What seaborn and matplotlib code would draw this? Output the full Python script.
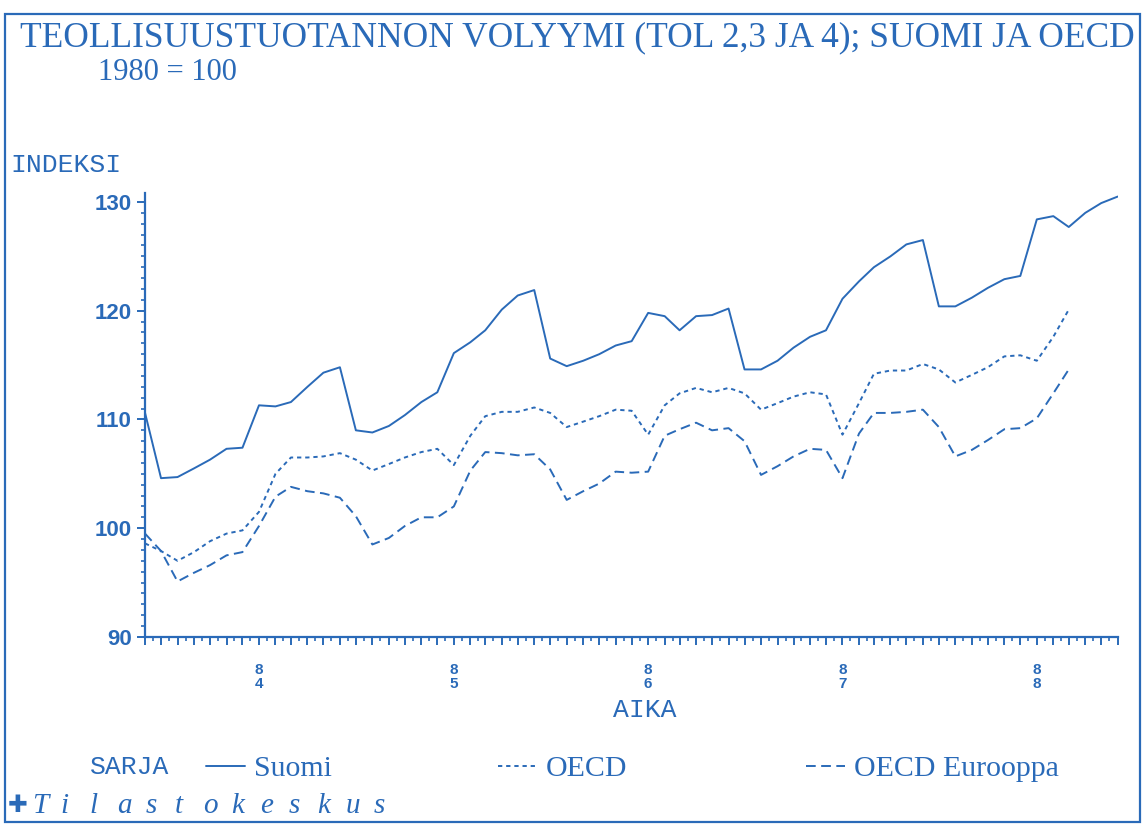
import numpy as np
import pandas as pd
import matplotlib
matplotlib.use("Agg")
import matplotlib.pyplot as plt
import matplotlib.dates as mdates
from matplotlib.ticker import FuncFormatter, MultipleLocator
from matplotlib.patches import Rectangle
import seaborn as sns

# monthly index values, 1980 = 100
months = pd.date_range("1983-06-01", "1988-06-01", freq="MS")

suomi = [110.6, 104.6, 104.7, 105.5, 106.3, 107.3, 107.4,
         111.3, 111.2, 111.6, 113.0, 114.3, 114.8, 109.0, 108.8, 109.4, 110.4, 111.6, 112.5,
         116.1, 117.1, 118.2, 120.1, 121.4, 121.9, 115.6, 114.9, 115.4, 116.0, 116.8, 117.2,
         119.8, 119.5, 118.2, 119.5, 119.6, 120.2, 114.6, 114.6, 115.4, 116.6, 117.6, 118.2,
         121.1, 122.7, 124.0, 125.0, 126.1, 126.5, 120.4, 120.4, 121.2, 122.1, 122.9, 123.2,
         128.4, 128.7, 127.7, 129.0, 129.9, 130.5]

oecd = [98.6, 97.9, 97.0, 97.8, 98.8, 99.5, 99.8,
        101.5, 105.0, 106.5, 106.5, 106.6, 106.9, 106.3, 105.3, 105.9, 106.5, 107.0, 107.3,
        105.8, 108.5, 110.3, 110.7, 110.7, 111.1, 110.6, 109.3, 109.8, 110.3, 110.9, 110.8,
        108.6, 111.3, 112.4, 112.9, 112.5, 112.9, 112.4, 110.9, 111.5, 112.1, 112.5, 112.3,
        108.6, 111.5, 114.2, 114.5, 114.5, 115.1, 114.6, 113.4, 114.1, 114.8, 115.8, 115.9,
        115.4, 117.6, 120.1]

oecd_eur = [99.5, 97.9, 95.1, 95.9, 96.6, 97.5, 97.8,
            100.2, 102.9, 103.8, 103.4, 103.2, 102.8, 101.1, 98.5, 99.1, 100.2, 101.0, 101.0,
            102.0, 105.3, 107.0, 106.9, 106.7, 106.8, 105.4, 102.6, 103.4, 104.1, 105.2, 105.1,
            105.2, 108.5, 109.1, 109.7, 109.0, 109.2, 108.0, 104.9, 105.7, 106.6, 107.3, 107.2,
            104.6, 108.7, 110.6, 110.6, 110.7, 110.9, 109.3, 106.6, 107.2, 108.1, 109.1, 109.2,
            110.1, 112.4, 114.6]

series_names = ["Suomi", "OECD", "OECD Eurooppa"]
y_ticks = [90, 100, 110, 120, 130]

BLUE = "#2a6ab8"

df = pd.concat([
    pd.DataFrame({"AIKA": months[:len(v)], "INDEKSI": v, "SARJA": name})
    for name, v in zip(series_names, [suomi, oecd, oecd_eur])
], ignore_index=True)

sns.set_style("white")

fig = plt.figure(figsize=(11.43, 8.25), dpi=100)
ax = fig.add_axes([0.1269, 0.228, 0.851, 0.5377])

sns.lineplot(
    data=df, x="AIKA", y="INDEKSI", hue="SARJA", style="SARJA",
    palette={n: BLUE for n in series_names},
    dashes={"Suomi": "", "OECD": (2.2, 2.0), "OECD Eurooppa": (5, 2.8)},
    linewidth=1.4, ax=ax,
)

ax.set_xlim(months[0], months[-1])
ax.set_ylim(90, 130.8)
ax.set_yticks(y_ticks)
ax.yaxis.set_minor_locator(MultipleLocator(1))
ax.xaxis.set_major_locator(mdates.MonthLocator())
ax.xaxis.set_minor_locator(mdates.MonthLocator(bymonthday=16))


def year_label(x, pos):
    d = mdates.num2date(x)
    if d.month == 1:
        s = str(d.year)[2:]
        return s[0] + "\n" + s[1]
    return ""


ax.xaxis.set_major_formatter(FuncFormatter(year_label))
ax.set_xlabel("")
ax.set_ylabel("")

for side in ["top", "right"]:
    ax.spines[side].set_visible(False)
for side in ["left", "bottom"]:
    ax.spines[side].set_color(BLUE)
    ax.spines[side].set_linewidth(1.6)

ax.tick_params(which="major", color=BLUE, length=6, width=1.4, direction="out")
ax.tick_params(which="minor", color=BLUE, length=3, width=1.2, direction="out")
ax.tick_params(axis="y", which="both", left=True)
ax.tick_params(axis="x", which="both", bottom=True)
for lab in ax.get_yticklabels():
    lab.set_fontfamily("Liberation Sans")
    lab.set_fontweight("bold")
    lab.set_fontsize(16)
    lab.set_color(BLUE)
for lab in ax.get_xticklabels():
    lab.set_fontfamily("Liberation Sans")
    lab.set_fontweight("bold")
    lab.set_fontsize(11)
    lab.set_color(BLUE)
    lab.set_linespacing(1.0)
ax.tick_params(axis="x", pad=13)

# legend row: one small legend per series, placed like the original
handles, labels = ax.get_legend_handles_labels()
ax.get_legend().remove()
legend_x = {"Suomi": 206, "OECD": 498, "OECD Eurooppa": 806}
for h, l in zip(handles, labels):
    if l not in legend_x:
        continue
    leg = fig.legend(
        [h], [l], loc="center left",
        bbox_to_anchor=(legend_x[l] / 1143, 1 - 769 / 825),
        frameon=False, handlelength=1.3, handletextpad=0.3,
        borderpad=0, borderaxespad=0,
        prop={"family": "Liberation Serif", "size": 21.5},
    )
    for t in leg.get_texts():
        t.set_color(BLUE)

mono = "Liberation Mono"
serif = "Liberation Serif"
fig.text(20 / 1143, 1 - 38 / 825, "TEOLLISUUSTUOTANNON VOLYYMI (TOL 2,3 JA 4); SUOMI JA OECD",
         fontfamily=serif, fontsize=25.5, color=BLUE, va="center", ha="left")
fig.text(98 / 1143, 1 - 72 / 825, "1980 = 100", fontfamily=serif, fontsize=22,
         color=BLUE, va="center", ha="left")
fig.text(10 / 1143, 1 - 165 / 825, "INDEKSI", fontfamily=mono, fontsize=19,
         color=BLUE, va="center", ha="left")
fig.text(645 / 1143, 1 - 710 / 825, "AIKA", fontfamily=mono, fontsize=19,
         color=BLUE, va="center", ha="center")
fig.text(90 / 1143, 1 - 767 / 825, "SARJA", fontfamily=mono, fontsize=19,
         color=BLUE, va="center", ha="left")
fig.text(8 / 1143, 1 - 805 / 825, "\u271a", fontfamily="DejaVu Sans", fontsize=17,
         color=BLUE, va="center", ha="left")
for i, ch in enumerate("Tilastokeskus"):
    fig.text((32 + i * 28.5) / 1143, 1 - 806 / 825, ch, fontfamily=serif,
             fontstyle="italic", fontsize=21, color=BLUE, va="center", ha="left")

# outer frame
fig.patches.append(Rectangle((5 / 1143, 3 / 825), 1135 / 1143, 808 / 825,
                             transform=fig.transFigure, fill=False,
                             edgecolor=BLUE, linewidth=1.6))

fig.savefig("out.png", dpi=100)
